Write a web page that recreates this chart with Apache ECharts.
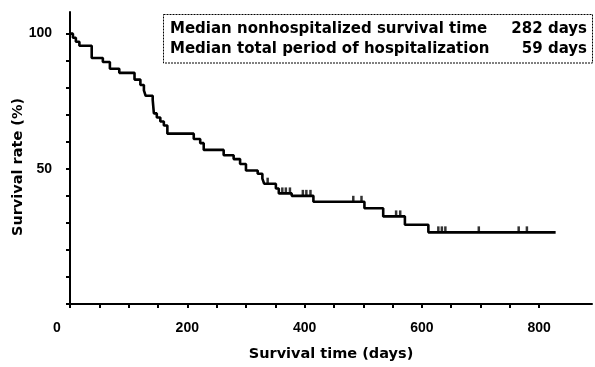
<!DOCTYPE html>
<html>
<head>
<meta charset="utf-8">
<script src="https://cdn.jsdelivr.net/npm/echarts@6/dist/echarts.min.js"></script>
<style>
html,body{margin:0;padding:0;background:#fff;}
#c{width:595px;height:367px;}
</style>
</head>
<body>
<div id="c"></div>
<script>
// Kaplan-Meier step data (days, survival %)
const stepTimes = [0,5,10,16,37,56,68,84,110,120,126,129,141,143,148,154,160,166,211,222,228,262,279,290,300,320,328,331,351,356,378,415,502,534,571,611,828];
const survival = [100,98.5,97,95.5,91,89.5,87,85.5,83,81,79,77,75.5,70.5,69,67.5,66,63,61,59.5,57,55,53.6,51.8,49.4,48.2,46.4,44.5,42.7,40.9,40,37.8,35.4,32.4,29.3,26.5,26.5];
// censored observations (days)
const censorTimes = [337,362,368,375,397,403,410,483,497,556,563,628,634,640,697,765,779];
// axis ticks / labels
const xTicks = [0,50,100,150,200,250,300,350,400,450,500,550,600,650,700,750,800];
const xLabels = [0,200,400,600,800];
const yTicks = [0,10,20,30,40,50,60,70,80,90,100];
const yLabels = [50,100];
// legend box texts
const boxLines = [
  ['Median nonhospitalized survival time','282 days'],
  ['Median total period of hospitalization','59 days']
];

function levelAt(t){
  let v = survival[0];
  for (let i=0;i<stepTimes.length;i++){ if (stepTimes[i] <= t) v = survival[i]; }
  return v;
}

const lineData = stepTimes.map((t,i)=>[t, survival[i]]);
const censorData = censorTimes.map(t=>[t, levelAt(t)]);

const chart = echarts.init(document.getElementById('c'), null, {renderer:'canvas'});
const boldFont = 'DejaVu Sans';
const gfx = [
  {type:'rect', shape:{x:163.5,y:14.5,width:429,height:48.5},
   style:{fill:'#fff', stroke:'#000', lineWidth:1, lineDash:[2,1]}, z:10}
];
boxLines.forEach((ln,i)=>{
  gfx.push({type:'text', x:170, y:29+i*20, z:11,
    style:{text:ln[0], fill:'#000', font:'bold 15px "DejaVu Sans"', textAlign:'left', textVerticalAlign:'middle'}});
  gfx.push({type:'text', x:587, y:29+i*20, z:11,
    style:{text:ln[1], fill:'#000', font:'bold 15px "DejaVu Sans"', textAlign:'right', textVerticalAlign:'middle'}});
});
gfx.push({type:'text', x:18, y:167, rotation:Math.PI/2, z:11,
  style:{text:'Survival rate (%)', fill:'#000', font:'bold 14.5px "DejaVu Sans"', textAlign:'center', textVerticalAlign:'middle'}});

chart.setOption({
  animation:false,
  backgroundColor:'#fff',
  grid:{left:70, right:3, top:12, bottom:59, containLabel:false},
  xAxis:{
    type:'value', min:0, max:890,
    name:'Survival time (days)', nameLocation:'middle', nameGap:43,
    nameTextStyle:{fontFamily:boldFont, fontWeight:'bold', fontSize:14.5, color:'#000'},
    axisLine:{show:true, onZero:false, lineStyle:{color:'#000', width:2}},
    axisTick:{show:true, inside:false, length:4, lineStyle:{color:'#000', width:2}, customValues:xTicks},
    axisLabel:{show:true, margin:17, color:'#000', fontFamily:'Liberation Sans', fontWeight:'bold', fontSize:14,
      customValues:xLabels,
      formatter:function(v){ return v===0 ? '{z|0}' : String(v); },
      rich:{z:{fontFamily:'Liberation Sans', fontWeight:'bold', fontSize:14, color:'#000', padding:[0,26,0,0]}}},
    splitLine:{show:false}
  },
  yAxis:{
    type:'value', min:0, max:108,
    axisLine:{show:true, onZero:false, lineStyle:{color:'#000', width:2}},
    axisTick:{show:true, inside:false, length:4, lineStyle:{color:'#000', width:2}, customValues:yTicks},
    axisLabel:{show:true, margin:18, color:'#000', fontFamily:'Liberation Sans', fontWeight:'bold', fontSize:14,
      customValues:yLabels},
    splitLine:{show:false}
  },
  series:[
    {type:'line', step:'end', data:lineData, symbol:'none', showSymbol:false,
     lineStyle:{color:'#000', width:2.6}, z:3},
    {type:'scatter', data:censorData, symbol:'rect', symbolSize:[2.5,6], symbolOffset:[0,-3],
     itemStyle:{color:'#000'}, z:4}
  ],
  graphic:gfx
});
</script>
</body>
</html>
